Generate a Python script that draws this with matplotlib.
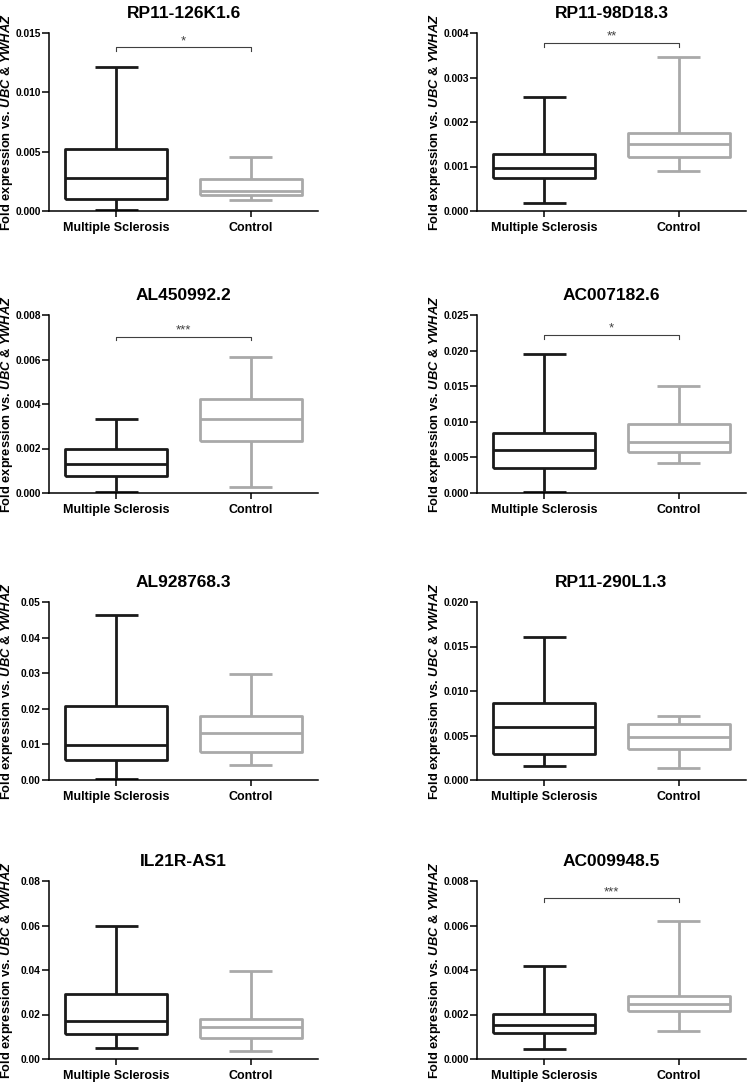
import matplotlib
matplotlib.use("Agg")
import matplotlib.pyplot as plt

plt.rcParams['font.family'] = ['Liberation Sans', 'DejaVu Sans']
plt.rcParams['font.weight'] = 'bold'
plt.rcParams['mathtext.fontset'] = 'custom'
plt.rcParams['mathtext.rm'] = 'Liberation Sans:bold'
plt.rcParams['mathtext.it'] = 'Liberation Sans:bold:italic'

genes = ['RP11-126K1.6', 'RP11-98D18.3', 'AL450992.2', 'AC007182.6',
         'AL928768.3', 'RP11-290L1.3', 'IL21R-AS1', 'AC009948.5']
groups = ['Multiple Sclerosis', 'Control']

# whisker low, Q1, median, Q3, whisker high
ms_stats = [
    [0.00005, 0.00098, 0.00281, 0.00520, 0.01213],
    [0.00018, 0.00075, 0.00097, 0.00127, 0.00256],
    [0.00003, 0.00075, 0.00130, 0.00197, 0.00332],
    [0.00010, 0.00350, 0.00607, 0.00841, 0.01949],
    [0.00030, 0.00560, 0.00981, 0.02084, 0.04626],
    [0.00157, 0.00292, 0.00591, 0.00867, 0.01611],
    [0.00492, 0.01132, 0.01728, 0.02935, 0.05974],
    [0.00045, 0.00119, 0.00153, 0.00203, 0.00417],
]
ctrl_stats = [
    [0.00095, 0.00135, 0.00166, 0.00267, 0.00455],
    [0.00089, 0.00121, 0.00150, 0.00176, 0.00346],
    [0.00028, 0.00232, 0.00333, 0.00423, 0.00609],
    [0.00420, 0.00575, 0.00720, 0.00972, 0.01509],
    [0.00411, 0.00785, 0.01308, 0.01800, 0.02990],
    [0.00138, 0.00351, 0.00479, 0.00628, 0.00718],
    [0.00343, 0.00924, 0.01460, 0.01818, 0.03948],
    [0.00125, 0.00215, 0.00246, 0.00283, 0.00618],
]

y_max = [0.015, 0.004, 0.008, 0.025, 0.05, 0.020, 0.08, 0.008]
y_step = [0.005, 0.001, 0.002, 0.005, 0.01, 0.005, 0.02, 0.002]
y_dec = [3, 3, 3, 3, 2, 3, 2, 3]

# significance: label and bracket height (None = not significant)
sig_label = ['*', '**', '***', '*', None, None, None, '***']
sig_y = [0.0138, 0.00378, 0.00703, 0.0222, None, None, None, 0.00722]

colors = ['#1a1a1a', '#a9a9a9']

fig = plt.figure(figsize=(7.47, 10.83), dpi=100)

W, H = 747, 1083
col_left = [49, 477]
ax_w = 269
row_top = [33, 315, 602, 881]
ax_h = 178

for i, gene in enumerate(genes):
    r, c = divmod(i, 2)
    ax = fig.add_axes([col_left[c] / W, 1 - (row_top[r] + ax_h) / H,
                       ax_w / W, ax_h / H])
    for j, st in enumerate([ms_stats[i], ctrl_stats[i]]):
        lo, q1, med, q3, hi = st
        d = dict(whislo=lo, q1=q1, med=med, q3=q3, whishi=hi, fliers=[])
        col = colors[j]
        lp = dict(color=col, linewidth=2.0, solid_capstyle='butt')
        ax.bxp([d], positions=[j], widths=0.76, capwidths=0.32,
               showfliers=False, boxprops=lp, whiskerprops=lp,
               capprops=lp, medianprops=lp)

    ax.set_xlim(-0.5, 1.5)
    ax.set_ylim(0, y_max[i])
    ticks = [k * y_step[i] for k in range(int(round(y_max[i] / y_step[i])) + 1)]
    ax.set_yticks(ticks)
    ax.set_yticklabels([f'{t:.{y_dec[i]}f}' for t in ticks], fontsize=7.4,
                       fontweight='bold')
    ax.set_xticks([0, 1])
    ax.set_xticklabels(groups, fontsize=9, fontweight='bold')
    ax.tick_params(axis='y', length=5, width=1.1, pad=1)
    ax.tick_params(axis='x', length=4, width=1.1, pad=4)
    for s in ['top', 'right']:
        ax.spines[s].set_visible(False)
    for s in ['left', 'bottom']:
        ax.spines[s].set_linewidth(1.1)
    ax.set_title(gene, fontsize=12.5, fontweight='bold', pad=11)
    ax.set_ylabel(r'Fold expression vs. $\mathit{UBC}$ & $\mathit{YWHAZ}$',
                  fontsize=9.3, fontweight='bold')
    ax.yaxis.set_label_coords(-0.128, 0.5)

    if sig_label[i] is not None:
        yb = sig_y[i]
        drop = y_max[i] * 0.022
        ax.plot([0, 0, 1, 1], [yb - drop, yb, yb, yb - drop],
                color='#404040', linewidth=0.8, clip_on=False)
        ax.text(0.5, yb, sig_label[i], ha='center', va='bottom',
                fontsize=9.5, color='#404040', fontweight='normal')

fig.savefig('out.png', dpi=100)
